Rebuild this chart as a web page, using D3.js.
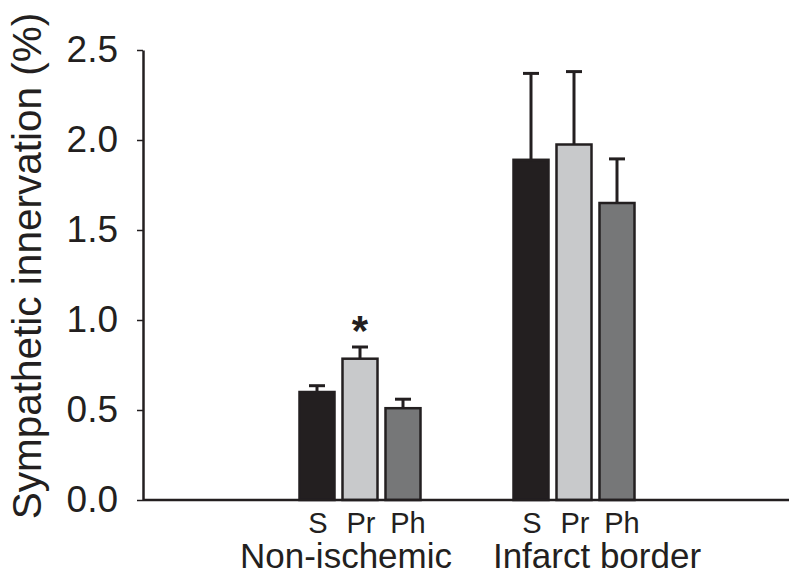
<!DOCTYPE html>
<html>
<head>
<meta charset="utf-8">
<script src="https://cdn.jsdelivr.net/npm/d3@7"></script>
<style>
  body { margin: 0; background: #fff; }
  text { font-family: "Liberation Sans", Arial, sans-serif; fill: #231f20; }
</style>
</head>
<body>
<div id="chart"></div>
<script>
const groups = ["Non-ischemic", "Infarct border"];
const series = ["S", "Pr", "Ph"];
const colors = ["#231f20", "#c8c9cb", "#767778"];
const means = [
  [0.60, 0.785, 0.51],
  [1.89, 1.975, 1.65]
];
const errTop = [
  [0.635, 0.85, 0.56],
  [2.37, 2.38, 1.895]
];
const yTicks = [0, 0.5, 1.0, 1.5, 2.0, 2.5];
const yTitle = "Sympathetic innervation (%)";

const dimension = { width: 800, height: 580, left: 143, right: 789, top: 50, bottom: 500 };

const svg = d3.select("#chart").append("svg")
  .attr("width", dimension.width)
  .attr("height", dimension.height);

const y = d3.scaleLinear().domain([0, 2.5]).range([dimension.bottom, dimension.top]);
const xGroup = d3.scalePoint().domain(groups).range([360, 574]);
const xSub = d3.scaleBand().domain(series).range([-60.5, 60.5]).paddingInner(0.186);

const rows = [];
groups.forEach((g, gi) => series.forEach((s, si) => {
  rows.push({ group: g, serie: s, value: means[gi][si], top: errTop[gi][si], color: colors[si] });
}));

// error bars behind the bars
const barX = d => xGroup(d.group) + xSub(d.serie);
const mid = d => barX(d) + xSub.bandwidth() / 2;

svg.append("g").selectAll("line.err")
  .data(rows).join("line")
  .attr("x1", mid).attr("x2", mid)
  .attr("y1", d => y(d.value)).attr("y2", d => y(d.top))
  .attr("stroke", "#231f20").attr("stroke-width", 3);

svg.append("g").selectAll("line.cap")
  .data(rows).join("line")
  .attr("x1", d => mid(d) - 8).attr("x2", d => mid(d) + 8)
  .attr("y1", d => y(d.top)).attr("y2", d => y(d.top))
  .attr("stroke", "#231f20").attr("stroke-width", 3);

svg.append("g").selectAll("rect")
  .data(rows).join("rect")
  .attr("x", barX)
  .attr("width", xSub.bandwidth())
  .attr("y", d => y(d.value))
  .attr("height", d => y(0) - y(d.value))
  .attr("fill", d => d.color)
  .attr("stroke", "#231f20")
  .attr("stroke-width", 2.5);

// y axis
const yAxis = svg.append("g")
  .attr("transform", `translate(${dimension.left},0)`)
  .call(d3.axisLeft(y).tickValues(yTicks).tickFormat(d3.format(".1f")).tickSize(6).tickPadding(19).tickSizeOuter(0));
yAxis.select(".domain").attr("stroke", "#231f20").attr("stroke-width", 2.5);
yAxis.selectAll(".tick line").attr("stroke", "#231f20").attr("stroke-width", 1.5);
yAxis.selectAll(".tick text")
  .attr("font-size", 37)
  .attr("font-family", "Liberation Sans, Arial, sans-serif")
  .attr("fill", "#231f20");

// x axis line
svg.append("line")
  .attr("x1", dimension.left).attr("x2", dimension.right)
  .attr("y1", y(0)).attr("y2", y(0))
  .attr("stroke", "#231f20").attr("stroke-width", 2.5);

// series labels under bars
svg.append("g").selectAll("text")
  .data(rows).join("text")
  .attr("x", d => mid(d) + (d.serie === "Ph" ? 5 : 1))
  .attr("y", 533)
  .attr("text-anchor", "middle")
  .attr("font-size", 29)
  .text(d => d.serie);

// group labels
const groupShift = [-14, 23];
svg.append("g").selectAll("text")
  .data(groups).join("text")
  .attr("x", (d, i) => xGroup(d) + groupShift[i])
  .attr("y", 568)
  .attr("text-anchor", "middle")
  .attr("font-size", 35)
  .text(d => d);

// significance marker
svg.append("text")
  .attr("x", mid(rows[1]))
  .attr("y", y(errTop[0][1]))
  .attr("dy", "-2px")
  .attr("text-anchor", "middle")
  .attr("font-size", 42)
  .attr("font-weight", "bold")
  .text("*");

// y title
svg.append("text")
  .attr("transform", `translate(41,${266}) rotate(-90)`)
  .attr("text-anchor", "middle")
  .attr("font-size", 40.5)
  .text(yTitle);
</script>
</body>
</html>
